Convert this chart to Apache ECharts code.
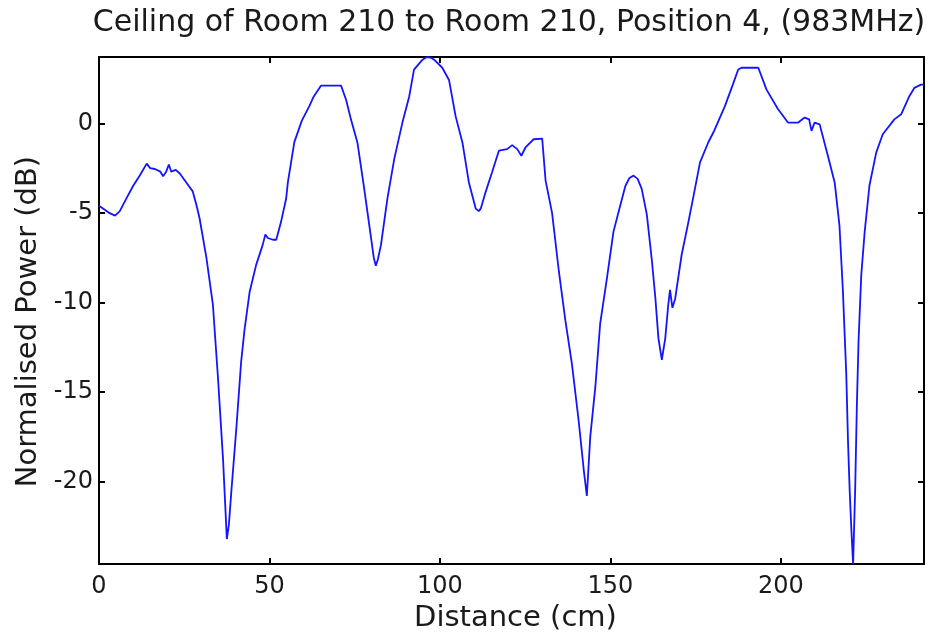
<!DOCTYPE html>
<html>
<head>
<meta charset="utf-8">
<title>Ceiling of Room 210 to Room 210, Position 4</title>
<script src="https://cdn.jsdelivr.net/npm/echarts@6/dist/echarts.min.js"></script>
<style>
    html, body { margin: 0; padding: 0; background: #fff; }
    #chart { width: 929px; height: 638px; }
</style>
</head>
<body>
<div id="chart"></div>
<script>
    var distance = [
        0, 1.5, 3, 4.7, 6.1, 8, 10, 12, 14, 15, 16.4, 18, 18.8, 19.7, 20.5, 21.2, 21.7, 22.5, 23.7, 25.6,
        27.5, 28.5, 29.5, 31.5, 33.4, 34.9, 36.4, 37, 37.5, 38.1, 38.8, 40.3, 41.7, 42.7, 44.2, 46.1,
        48, 48.8, 49.5, 50, 51, 52, 53.4, 54.9, 55.4, 57.3, 59.5, 61.7, 63, 65.1, 71, 72.5, 73.9, 75.8,
        77.8, 79.8, 80.6, 81.2, 81.8, 82.7, 84.6, 86.6, 89, 91, 92.4, 94.9, 96.2, 97.5, 98.3, 100.7,
        102.7, 104.6, 106.6, 108.5, 110.5, 111.4, 112, 113.4, 115.3, 117.3, 119.7, 121.2, 122.7, 123.9,
        125.1, 127.5, 130, 131, 132.9, 134.9, 136.8, 138.7, 140.7, 142.2, 143.1, 144.1, 145.6, 147, 149,
        150.9, 152.4, 154.4, 155.6, 156.8, 158, 159.2, 160.7, 162.2, 163.2, 164.1, 165.1, 166.1, 167,
        167.5, 168.2, 169, 170.9, 172.9, 174.8, 176.3, 178.7, 180.5, 183.6, 186, 187.5, 188.5, 193.4,
        195.8, 199.2, 202.1, 205.1, 207, 208.3, 209, 209.9, 211.4, 213.8, 215.8, 217.2, 218.2, 219.2,
        219.7, 220.2, 220.7, 221.2, 221.8, 222.3, 222.8, 223.6, 224.6, 226, 228, 229.9, 233.3, 235.3,
        237.7, 239.2, 241.1, 242
    ];
    var power = [
        -4.6, -4.8, -5.0, -5.15, -4.9, -4.2, -3.5, -2.9, -2.25, -2.5, -2.55, -2.7, -2.95, -2.7, -2.3, -2.7, -2.65, -2.6, -2.8, -3.3,
        -3.8, -4.5, -5.3, -7.5, -10.1, -14.2, -18.8, -21.2, -23.2, -22.4, -20.6, -17, -13.3, -11.5, -9.4, -7.9,
        -6.8, -6.2, -6.4, -6.3, -6.5, -6.5, -5.5, -4.2, -3.3, -1.05, 0.15, 0.96, 1.5, 2.1, 2.1, 1.3, 0.22, -1.07,
        -3.66, -6.4, -7.5, -7.95, -7.6, -6.8, -4.2, -2, 0.04, 1.5, 3.0, 3.55, 3.7, 3.65, 3.55, 3.1,
        2.4, 0.4, -1.07, -3.3, -4.76, -4.9, -4.75, -3.84, -2.73, -1.53, -1.44, -1.22, -1.44, -1.81,
        -1.35, -0.89, -0.85, -3.2, -5.0, -8.27, -11, -13.4, -16.6, -19.35, -20.8, -17.5, -14.7, -11.2, -8.64,
        -6.06, -4.95, -3.5, -3.05, -2.92, -3.1, -3.66, -5.1, -7.7, -9.75, -12, -13.2, -12, -10.1,
        -9.3, -10.3, -9.8, -7.35, -5.5, -3.66, -2.18, -1.07, -0.4, 0.96, 2.2, 3.0, 3.1, 3.1,
        1.88, 0.78, 0.04, 0.04, 0.32, 0.22, -0.42, 0.04, -0.06, -1.81, -3.3, -5.7, -9.3, -14,
        -17.7, -20.5, -22.7, -24.6, -20.5, -15.8, -12.15, -8.46, -6.06, -3.47, -1.62, -0.61, 0.22, 0.5,
        1.51, 1.98, 2.16, 2.16
    ];
    var xTicks = [0, 50, 100, 150, 200];
    var yTicks = [-20, -15, -10, -5, 0];

    var points = distance.map(function (d, i) { return [d, power[i]]; });

    var fontFamily = '"DejaVu Sans", sans-serif';
    var textColor = '#1a1a1a';

    function frameAxis(extra) {
        var base = {
            axisLine: { show: true, onZero: false, lineStyle: { color: '#000', width: 2 } },
            axisTick: { show: true, inside: true, length: 6, lineStyle: { color: '#000', width: 2 } },
            splitLine: { show: false },
            axisLabel: { show: false }
        };
        return Object.assign(base, extra);
    }

    var chart = echarts.init(document.getElementById('chart'), null, { renderer: 'canvas' });

    chart.setOption({
        animation: false,
        backgroundColor: '#fff',
        title: {
            text: 'Ceiling of Room 210 to Room 210, Position 4, (983MHz)',
            left: 509,
            top: 8,
            textAlign: 'center',
            padding: 0,
            textStyle: { fontFamily: fontFamily, fontSize: 30, fontWeight: 'normal', color: textColor }
        },
        grid: { left: 99, right: 5, top: 57, bottom: 70, containLabel: false },
        xAxis: [
            frameAxis({
                type: 'value', position: 'bottom', min: 0, max: 242,
                axisTick: { show: true, inside: true, length: 6, customValues: xTicks, lineStyle: { color: '#000', width: 2 } },
                axisLabel: { show: true, customValues: xTicks, margin: 11, fontFamily: fontFamily, fontSize: 24, color: textColor },
                name: 'Distance (cm)', nameLocation: 'middle', nameGap: 38,
                nameTextStyle: { fontFamily: fontFamily, fontSize: 29, color: textColor, padding: [0, 0, 0, 8] }
            }),
            frameAxis({
                type: 'value', position: 'top', min: 0, max: 242,
                axisTick: { show: true, inside: true, length: 6, customValues: xTicks, lineStyle: { color: '#000', width: 2 } }
            })
        ],
        yAxis: [
            frameAxis({
                type: 'value', position: 'left', min: -24.6, max: 3.7,
                axisTick: { show: true, inside: true, length: 6, customValues: yTicks, lineStyle: { color: '#000', width: 2 } },
                axisLabel: { show: true, customValues: yTicks, margin: 6, fontFamily: fontFamily, fontSize: 24, color: textColor },
                name: 'Normalised Power (dB)', nameLocation: 'middle', nameGap: 50,
                nameTextStyle: { fontFamily: fontFamily, fontSize: 29, color: textColor, padding: [0, 22, 0, 0] }
            }),
            frameAxis({
                type: 'value', position: 'right', min: -24.6, max: 3.7,
                axisTick: { show: true, inside: true, length: 6, customValues: yTicks, lineStyle: { color: '#000', width: 2 } }
            })
        ],
        series: [
            {
                type: 'line',
                data: points,
                xAxisIndex: 0,
                yAxisIndex: 0,
                showSymbol: false,
                smooth: false,
                clip: true,
                lineStyle: { color: '#1414ff', width: 1.8 }
            }
        ]
    });
</script>
</body>
</html>
